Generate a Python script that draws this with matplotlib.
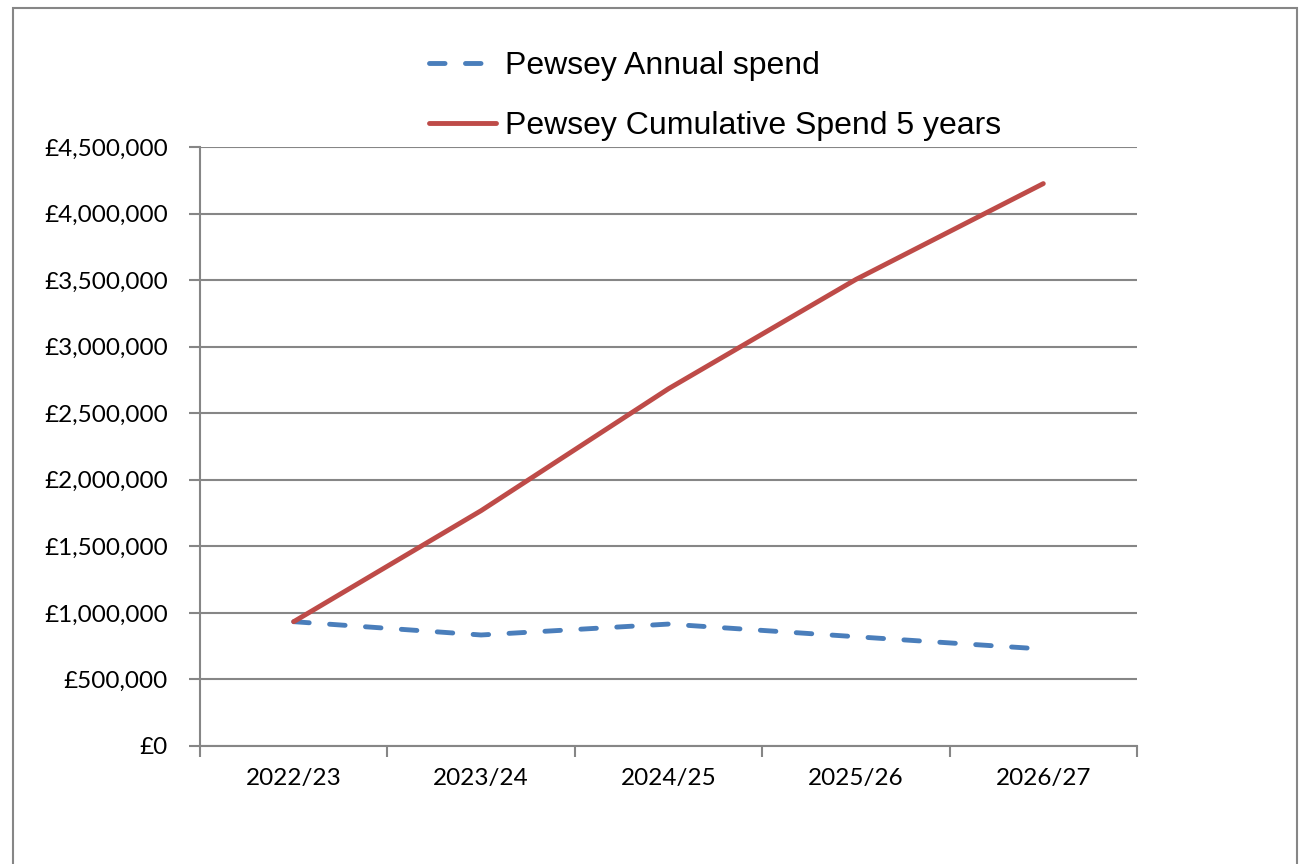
import matplotlib.pyplot as plt
import matplotlib.patches as patches
from matplotlib.ticker import FuncFormatter

years = ['2022/23', '2023/24', '2024/25', '2025/26', '2026/27']
annual_spend = [934000, 834000, 916000, 821000, 728000]
cumulative_spend = [934000, 1768000, 2684000, 3505000, 4225000]

grey = '#868686'
blue = '#4A7EBB'
red = '#BE4B48'

fig = plt.figure(figsize=(13.01, 8.64), dpi=100)
ax = fig.add_axes([200 / 1301, 1 - 746 / 864, 937 / 1301, 599 / 864])

x = list(range(len(years)))
ax.plot(x, annual_spend, color=blue, lw=3.5, ls=(0, (3.2, 4.2)),
        dash_capstyle='round', label='Pewsey Annual spend', zorder=3)
ax.plot(x, cumulative_spend, color=red, lw=3.5, solid_capstyle='round',
        label='Pewsey Cumulative Spend 5 years', zorder=3)

ax.set_xlim(-0.5, len(years) - 0.5)
ax.set_ylim(0, 4500000)
ax.set_yticks(range(0, 4500001, 500000))
ax.yaxis.set_major_formatter(FuncFormatter(lambda v, p: '£{:,.0f}'.format(v)))
ax.grid(axis='y', color=grey, lw=1.5)
ax.set_axisbelow(True)

# category ticks on the boundaries, labels in the middle
ax.set_xticks([i - 0.5 for i in range(len(years) + 1)])
ax.set_xticklabels([])
ax.set_xticks(x, minor=True)
ax.set_xticklabels(years, minor=True)
ax.tick_params(axis='x', which='major', length=8, width=1.5, color=grey, direction='out')
ax.tick_params(axis='x', which='minor', length=0, pad=16, labelsize=17.5)
ax.tick_params(axis='y', length=8, width=1.5, color=grey, pad=15, labelsize=17.5)
for lab in ax.get_xticklabels(minor=True) + ax.get_yticklabels():
    lab.set_fontfamily('Lato')

for s in ['top', 'right']:
    ax.spines[s].set_visible(False)
for s in ['left', 'bottom']:
    ax.spines[s].set_color(grey)
    ax.spines[s].set_linewidth(1.5)

leg = fig.legend(loc='upper left', bbox_to_anchor=(400 / 1301, 1 - 22 / 864),
                 frameon=False, handlelength=2.1, handletextpad=0.28,
                 labelspacing=0.95, prop={'family': 'Liberation Sans', 'size': 23})

# outer chart border
fig.patches.append(patches.Rectangle((13 / 1301, -0.01), 1284 / 1301, 1.01 - 8 / 864,
                                     transform=fig.transFigure, fill=False,
                                     edgecolor=grey, lw=1.5))

fig.savefig('out.png', dpi=100)
